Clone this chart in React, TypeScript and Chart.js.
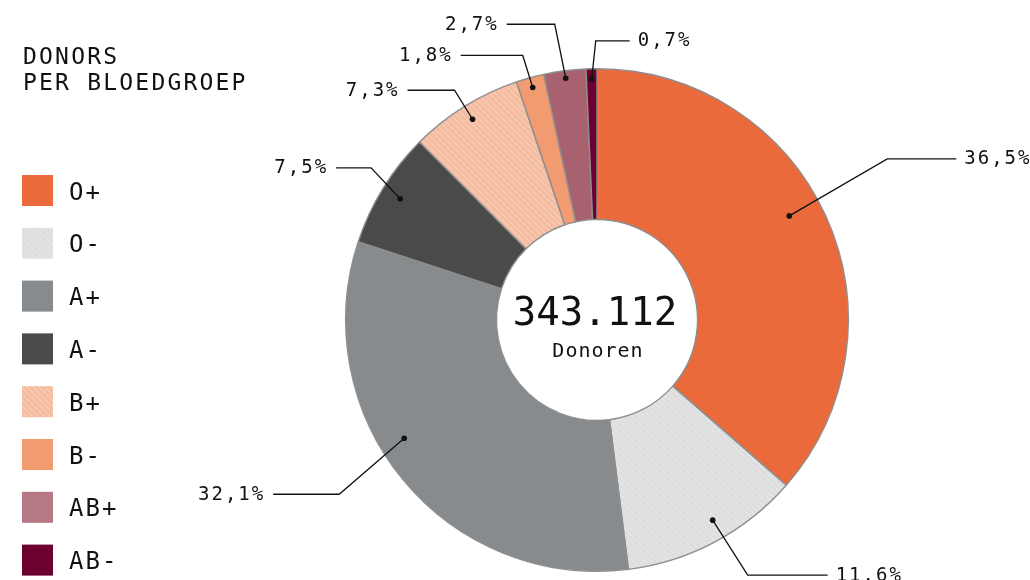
import React, { useEffect, useRef } from "react";
import { Chart, registerables } from "chart.js";
Chart.register(...registerables);

// ---------- data ----------
const categories = ["O+", "O-", "A+", "A-", "B+", "B-", "AB+", "AB-"];
const shares = [36.5, 11.6, 32.1, 7.5, 7.3, 1.8, 2.7, 0.7];
const shareLabels = ["36,5%", "11.6%", "32,1%", "7,5%", "7,3%", "1,8%", "2,7%", "0,7%"];
const totalDonors = "343.112";
const centerCaption = "Donoren";
const titleLines = ["DONORS", "PER BLOEDGROEP"];

// ---------- styles ----------
const sliceColors = ["#EA6A3B", "#DEDEDE", "#878B8D", "#4A4A48", "#F5BC9F", "#F29A70", "#A8616F", "#6C0130"];
const legendColors = ["#EA6A3B", "#DEDEDE", "#878B8D", "#4A4A48", "#F5BC9F", "#F29A70", "#B77885", "#6C0130"];
const hatched = [false, true, false, false, true, false, false, false];

// leader-line geometry (positions relative to each slice)
const dotRadiusFrac = [0.87, 0.92, 0.9, 0.92, 0.94, 0.96, 0.97, 0.96];
const dotAngleShiftDeg = [-4, -2, 8, 0, 0, 0, 0, 0];
const elbowOffsets: [number, number][] = [
  [98, -57], [35, 55], [-65, 56], [-29, -31], [-18, -29], [-10, -32], [-11, -54], [4, -38],
];
const runLengths = [69, 80, -66, -35, -47, -62, -48, 34];

const FONT = "'DejaVu Sans Mono', 'Liberation Mono', monospace";

function makeHatch(base: string): CanvasPattern | string {
  const s = 6;
  const c = document.createElement("canvas");
  c.width = s;
  c.height = s;
  const g = c.getContext("2d");
  if (!g) return base;
  g.fillStyle = base;
  g.fillRect(0, 0, s, s);
  g.strokeStyle = "rgba(255,255,255,0.28)";
  g.lineWidth = 1.2;
  g.beginPath();
  g.moveTo(-1, -1);
  g.lineTo(s + 1, s + 1);
  g.moveTo(-1, s - 1);
  g.lineTo(1, s + 1);
  g.moveTo(s - 1, -1);
  g.lineTo(s + 1, 1);
  g.stroke();
  const p = g.createPattern(c, "repeat");
  return p || base;
}

const overlayPlugin = {
  id: "overlay",
  afterDraw(chart: any) {
    const ctx: CanvasRenderingContext2D = chart.ctx;
    const meta = chart.getDatasetMeta(0);
    const fills: any[] = chart.data.datasets[0].backgroundColor;
    ctx.save();
    ctx.fillStyle = "#111";
    ctx.textAlign = "left";
    ctx.textBaseline = "alphabetic";

    // title
    ctx.font = `23px ${FONT}`;
    (ctx as any).letterSpacing = "2.2px";
    ctx.fillText(titleLines[0], 23, 64);
    ctx.fillText(titleLines[1], 23, 90);

    // legend
    ctx.font = `24px ${FONT}`;
    (ctx as any).letterSpacing = "2px";
    categories.forEach((cat, i) => {
      const y = 175 + i * 52.8;
      ctx.fillStyle = hatched[i] ? fills[i] : legendColors[i];
      ctx.fillRect(22, y, 31, 31);
      ctx.fillStyle = "#111";
      ctx.fillText(cat, 69, y + 24.5);
    });

    // center text
    const arc0 = meta.data[0];
    const cx = arc0.x;
    ctx.textAlign = "center";
    ctx.font = `39px ${FONT}`;
    (ctx as any).letterSpacing = "0px";
    ctx.fillText(totalDonors, cx - 2, 325);
    ctx.font = `20px ${FONT}`;
    (ctx as any).letterSpacing = "1px";
    ctx.fillText(centerCaption, cx + 1, 357);

    // leader lines and labels
    ctx.font = `19px ${FONT}`;
    (ctx as any).letterSpacing = "2px";
    ctx.strokeStyle = "#111";
    ctx.lineWidth = 1.3;
    meta.data.forEach((arc: any, i: number) => {
      const a = (arc.startAngle + arc.endAngle) / 2 + (dotAngleShiftDeg[i] * Math.PI) / 180;
      const r = arc.outerRadius * dotRadiusFrac[i];
      const dx = arc.x + Math.cos(a) * r;
      const dy = arc.y + Math.sin(a) * r;
      const ex = dx + elbowOffsets[i][0];
      const ey = dy + elbowOffsets[i][1];
      const lx = ex + runLengths[i];
      ctx.beginPath();
      ctx.moveTo(dx, dy);
      ctx.lineTo(ex, ey);
      ctx.lineTo(lx, ey);
      ctx.stroke();
      ctx.fillStyle = "#111";
      ctx.beginPath();
      ctx.arc(dx, dy, 2.8, 0, Math.PI * 2);
      ctx.fill();
      if (runLengths[i] >= 0) {
        ctx.textAlign = "left";
        ctx.fillText(shareLabels[i], lx + 8, ey + 5.5);
      } else {
        ctx.textAlign = "right";
        ctx.fillText(shareLabels[i], lx - 8, ey + 5.5);
      }
    });
    ctx.restore();
  },
};

export default function App() {
  const ref = useRef<HTMLCanvasElement | null>(null);
  useEffect(() => {
    if (!ref.current) return;
    const bg = sliceColors.map((c, i) => (hatched[i] ? makeHatch(c) : c));
    const chart = new Chart(ref.current, {
      type: "doughnut",
      data: {
        labels: categories,
        datasets: [
          {
            data: shares,
            backgroundColor: bg as any,
            borderColor: "#8E8E8E",
            borderWidth: 1.4,
            borderAlign: "center",
          },
        ],
      },
      options: {
        responsive: false,
        animation: false,
        cutout: "40%",
        layout: { padding: { left: 345, right: 181, top: 68, bottom: 8 } },
        plugins: {
          legend: { display: false },
          tooltip: { enabled: false },
          title: { display: false },
        },
      },
      plugins: [overlayPlugin],
    });
    return () => chart.destroy();
  }, []);
  return (
    <div style={{ position: "fixed", left: 0, top: 0, width: 1030, height: 580, background: "#fff" }}>
      <canvas ref={ref} width={1030} height={580} style={{ width: 1030, height: 580, display: "block" }} />
    </div>
  );
}
